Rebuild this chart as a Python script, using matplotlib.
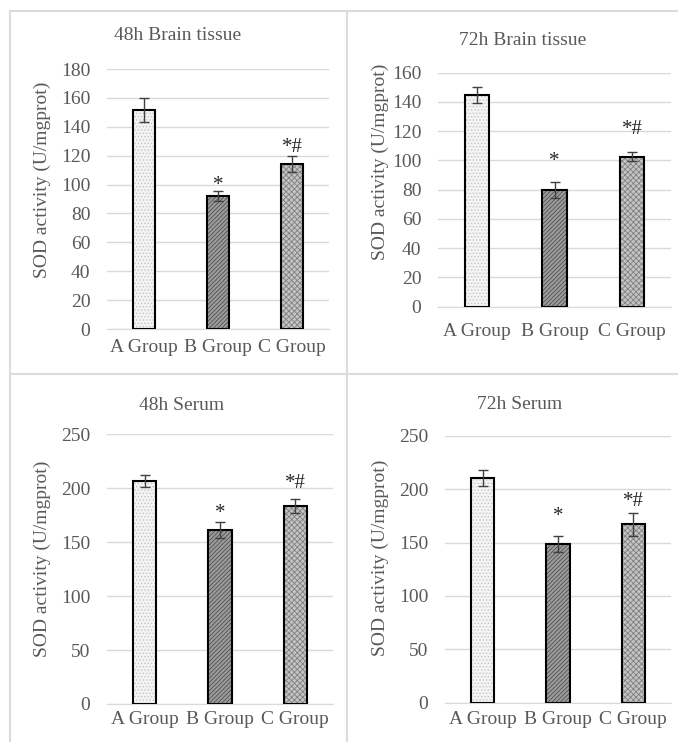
import matplotlib
matplotlib.use("Agg")
import matplotlib.pyplot as plt
from matplotlib.lines import Line2D

plt.rcParams['font.family'] = ['Liberation Serif', 'DejaVu Serif']
plt.rcParams['hatch.linewidth'] = 0.6

W, H = 678, 742
TXT = '#595959'
GRID = '#d9d9d9'

groups = ["A Group", "B Group", "C Group"]

titles = ["48h Brain tissue", "72h Brain tissue", "48h Serum", "72h Serum"]
means = [
    [151.5, 92.3, 114.5],
    [144.7, 79.8, 102.6],
    [206.7, 161.0, 183.3],
    [210.0, 149.0, 167.0],
]
errs = [
    [8.5, 3.5, 5.5],
    [5.5, 5.5, 3.2],
    [6.0, 7.5, 6.5],
    [7.5, 7.5, 11.0],
]
marks = ["", "*", "*#"]
mark_y = [
    [None, 99.0, 126.0],
    [None, 99.0, 121.0],
    [None, 177.0, 204.5],
    [None, 174.0, 188.5],
]
ymax = [180, 160, 250, 250]
ystep = [20, 20, 50, 50]

# pixel boxes of each plot area: left, top, right, bottom
boxes = [(107, 69, 329, 329), (438, 72.7, 671, 306.7),
         (107, 434.3, 333, 704), (445, 435.7, 671, 702.7)]
title_pos = [(178, 36), (523, 40.7), (182, 405.7), (519.5, 404.3)]
ylab_pos = [(42, 180), (380, 162), (42, 559), (380, 557.5)]
xlab_y = [348, 331.7, 720, 720]

faces = ['#f4f4f4', '#9c9c9c', '#c4c4c4']
hcols = ['#c4c4c4', '#505050', '#808080']
hatches = ['.....', '////////', 'xxxxxx']

fig = plt.figure(figsize=(W / 100, H / 100), dpi=100)

# panel borders
for (x0, y0, x1, y1) in [(10, 11, 678, 11), (10, 11, 10, 742), (347, 11, 347, 742), (10, 374, 678, 374)]:
    fig.add_artist(Line2D([x0 / W, x1 / W], [1 - y0 / H, 1 - y1 / H], color='#dcdcdc', lw=1.5))

for k in range(4):
    l, t, r, b = boxes[k]
    ax = fig.add_axes([l / W, 1 - b / H, (r - l) / W, (b - t) / H])
    x = range(len(groups))
    for i in x:
        ax.bar(i, means[k][i], width=0.31, color=faces[i], edgecolor=hcols[i], hatch=hatches[i], lw=0, zorder=2)
    ax.bar(x, means[k], width=0.31, fill=False, edgecolor='black', lw=1.5, zorder=3)
    ax.errorbar(x, means[k], yerr=errs[k], fmt='none', ecolor='#404040', elinewidth=1, capsize=3.5, capthick=1, zorder=4)
    for i in x:
        if marks[i]:
            ax.text(i, mark_y[k][i], marks[i], ha='center', va='center', fontsize=15, color='#262626')
    ax.set_xlim(-0.5, 2.5)
    ax.set_ylim(0, ymax[k])
    ax.set_yticks(range(0, ymax[k] + 1, ystep[k]))
    ax.grid(axis='y', color=GRID, lw=1)
    ax.set_axisbelow(True)
    for s in ['top', 'right', 'left']:
        ax.spines[s].set_visible(False)
    ax.spines['bottom'].set_color(GRID)
    ax.tick_params(length=0, labelsize=14, colors=TXT, pad=12)
    ax.set_xticks(list(x))
    ax.set_xticklabels([])
    # x labels at the measured height
    for i in x:
        ax.text(i, -(xlab_y[k] - b) / (b - t), groups[i], transform=ax.get_xaxis_transform(),
                fontsize=14, color=TXT, ha='center', va='center')
    fig.text(title_pos[k][0] / W, 1 - title_pos[k][1] / H, titles[k], fontsize=14, color=TXT, ha='center', va='center')
    fig.text(ylab_pos[k][0] / W, 1 - ylab_pos[k][1] / H, "SOD activity (U/mgprot)", fontsize=14, color=TXT,
             ha='center', va='center', rotation=90)

fig.savefig('out.png', dpi=100)
